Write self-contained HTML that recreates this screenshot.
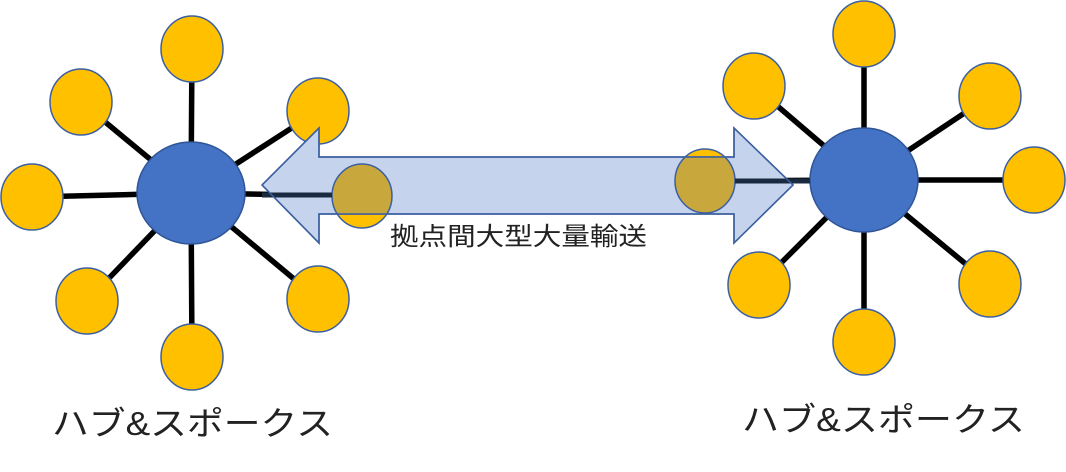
<!DOCTYPE html>
<html><head><meta charset="utf-8"><style>
html,body{margin:0;padding:0;background:#fff;}
svg{display:block;}
text{font-family:"Liberation Sans","Noto Sans CJK JP",sans-serif;fill:#222;}
</style></head><body>
<svg width="1066" height="472" viewBox="0 0 1066 472" xmlns="http://www.w3.org/2000/svg">
<defs>
<clipPath id="shaft"><rect x="250" y="157" width="560" height="57"/></clipPath>
</defs>
<g stroke="#000" stroke-width="5.5">
<line x1="191" y1="193" x2="192" y2="49"/>
<line x1="191" y1="193" x2="81" y2="102"/>
<line x1="191" y1="193" x2="318" y2="111"/>
<line x1="191" y1="193" x2="32" y2="197"/>
<line x1="191" y1="193" x2="362" y2="196"/>
<line x1="191" y1="193" x2="87" y2="301"/>
<line x1="191" y1="193" x2="192" y2="357"/>
<line x1="191" y1="193" x2="318" y2="299"/>
<line x1="864" y1="180" x2="864" y2="34"/>
<line x1="864" y1="180" x2="754" y2="86"/>
<line x1="864" y1="180" x2="990" y2="96"/>
<line x1="864" y1="180" x2="1034" y2="180"/>
<line x1="864" y1="180" x2="705" y2="181"/>
<line x1="864" y1="180" x2="759" y2="285"/>
<line x1="864" y1="180" x2="864" y2="342"/>
<line x1="864" y1="180" x2="990" y2="284"/>
</g>
<g fill="#ffc000" stroke="#3b5fa0" stroke-width="1.5">
<ellipse cx="192" cy="49" rx="31" ry="33"/>
<ellipse cx="81" cy="102" rx="31" ry="33"/>
<ellipse cx="318" cy="111" rx="31" ry="33"/>
<ellipse cx="32" cy="197" rx="31" ry="33"/>
<ellipse cx="362" cy="196" rx="30" ry="32"/>
<ellipse cx="87" cy="301" rx="31" ry="33"/>
<ellipse cx="192" cy="357" rx="31" ry="33"/>
<ellipse cx="318" cy="299" rx="31" ry="33"/>
<ellipse cx="864" cy="34" rx="31" ry="33"/>
<ellipse cx="754" cy="86" rx="31" ry="33"/>
<ellipse cx="990" cy="96" rx="31" ry="33"/>
<ellipse cx="1034" cy="180" rx="31" ry="33"/>
<ellipse cx="705" cy="181" rx="30" ry="32"/>
<ellipse cx="759" cy="285" rx="31" ry="33"/>
<ellipse cx="864" cy="342" rx="31" ry="33"/>
<ellipse cx="990" cy="284" rx="31" ry="33"/>
</g>
<g fill="#4472c4" stroke="#2f5597" stroke-width="1.5">
<ellipse cx="191" cy="193" rx="54" ry="51"/>
<ellipse cx="864" cy="180" rx="54" ry="52"/>
</g>
<polygon points="262,185 319,128 319,157 734,157 734,128 793,185 734,243 734,214 319,214 319,243" fill="#c5d4ec" stroke="#3b5fa0" stroke-width="1.5"/>
<g clip-path="url(#shaft)" fill="#c8a83c" stroke="#3b5fa0" stroke-width="1.5">
<ellipse cx="362" cy="196" rx="30" ry="32"/>
<ellipse cx="705" cy="181" rx="30" ry="32"/>
</g>
<g fill="#c8a83c" stroke="#3b5fa0" stroke-width="1.5">
<path d="M705,149 A30,32 0 0 0 675,181 A30,32 0 0 0 705,213 L734,213 L734,157 A30,32 0 0 0 705,149 Z" fill="none" stroke="none"/>
</g>
<line x1="262" y1="195" x2="332" y2="195" stroke="#1a2a40" stroke-width="5"/>
<line x1="735" y1="181" x2="810" y2="181" stroke="#1a2a40" stroke-width="5"/>
<polyline points="262,185 319,128 319,157 734,157 734,128 793,185 734,243 734,214 319,214 319,243 262,185" fill="none" stroke="#3b5fa0" stroke-width="1.5"/>
<text x="390" y="245" font-size="25" textLength="257" lengthAdjust="spacingAndGlyphs">拠点間大型大量輸送</text>
<text x="52" y="435" font-size="33" textLength="281" lengthAdjust="spacingAndGlyphs">ハブ&amp;スポークス</text>
<text x="742" y="431" font-size="33" textLength="283" lengthAdjust="spacingAndGlyphs">ハブ&amp;スポークス</text>
</svg>
</body></html>
